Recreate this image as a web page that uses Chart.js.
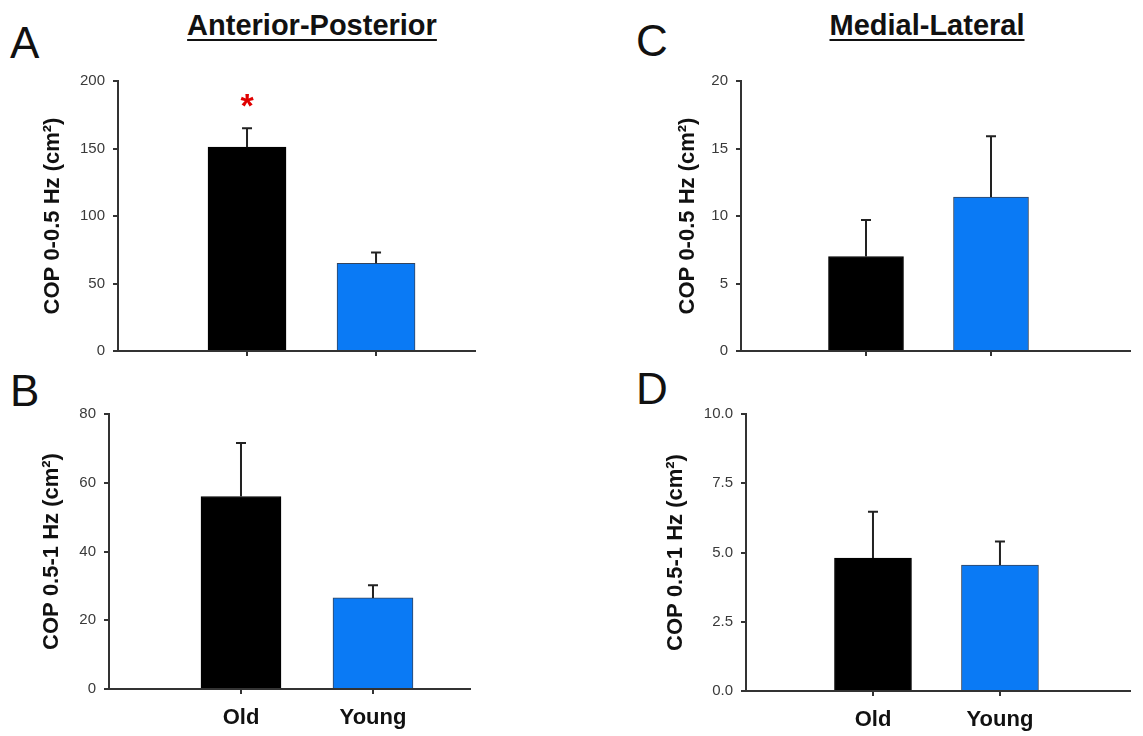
<!DOCTYPE html>
<html>
<head>
<meta charset="utf-8">
<script src="https://cdn.jsdelivr.net/npm/chart.js@4.4.1/dist/chart.umd.min.js"></script>
<style>
  html, body { margin: 0; padding: 0; background: #fff; }
  body { width: 1143px; height: 736px; position: relative; overflow: hidden; font-family: "Liberation Sans", Arial, sans-serif; }
  canvas { position: absolute; }
  .letter { position: absolute; font-size: 44px; line-height: 1; color: #111; }
  .heading {
    position: absolute; top: 11px; font-size: 29px; font-weight: bold; line-height: 1;
    white-space: nowrap; transform: translateX(-50%); color: #111;
    text-decoration: underline; text-decoration-thickness: 2px; text-underline-offset: 4px;
  }
</style>
</head>
<body>
<div class="letter" style="left:10px;top:21px">A</div>
<div class="letter" style="left:10px;top:369px">B</div>
<div class="letter" style="left:636px;top:19px">C</div>
<div class="letter" style="left:636px;top:367px">D</div>
<div class="heading" style="left:312px">Anterior-Posterior</div>
<div class="heading" style="left:927px">Medial-Lateral</div>

<canvas id="chart-a" width="470" height="320" style="left:20px;top:60px"></canvas>
<canvas id="chart-b" width="470" height="341" style="left:20px;top:395px"></canvas>
<canvas id="chart-c" width="503" height="320" style="left:640px;top:60px"></canvas>
<canvas id="chart-d" width="503" height="341" style="left:640px;top:395px"></canvas>

<script>
// ── 1. DATOS ────────────────────────────────────────
const GROUPS = ['Old', 'Young'];

// A: antero-posterior, 0-0.5 Hz
const AP_LOW = [151, 65];
const AP_LOW_SEM = [14, 8];
const AP_LOW_SIG = ['*', ''];
const AP_LOW_TICKS = [0, 50, 100, 150, 200];

// B: antero-posterior, 0.5-1 Hz
const AP_HIGH = [56, 26.5];
const AP_HIGH_SEM = [15.6, 3.7];
const AP_HIGH_TICKS = [0, 20, 40, 60, 80];

// C: medio-lateral, 0-0.5 Hz
const ML_LOW = [7.0, 11.4];
const ML_LOW_SEM = [2.7, 4.5];
const ML_LOW_TICKS = [0, 5, 10, 15, 20];

// D: medio-lateral, 0.5-1 Hz
const ML_HIGH = [4.8, 4.55];
const ML_HIGH_SEM = [1.67, 0.85];
const ML_HIGH_TICKS = [0, 2.5, 5, 7.5, 10];

const FONT = '"Liberation Sans", Arial, sans-serif';
const AXIS = '#333';

// ── 2. PANELES ──────────────────────────────────────
const PANELS = [
  { id: 'chart-a', values: AP_LOW, sem: AP_LOW_SEM, sig: AP_LOW_SIG, ticks: AP_LOW_TICKS,
    title: 'COP 0-0.5 Hz (cm²)', decimals: 0, names: false,
    top: 21, right: 15, yWidth: 98, xHeight: 29, titlePad: 20, xMax: 2.767, bar: 78 },
  { id: 'chart-b', values: AP_HIGH, sem: AP_HIGH_SEM, sig: null, ticks: AP_HIGH_TICKS,
    title: 'COP 0.5-1 Hz (cm²)', decimals: 0, names: true,
    top: 19, right: 20, yWidth: 89, xHeight: 47, titlePad: 19, xMax: 2.735, bar: 80 },
  { id: 'chart-c', values: ML_LOW, sem: ML_LOW_SEM, sig: null, ticks: ML_LOW_TICKS,
    title: 'COP 0-0.5 Hz (cm²)', decimals: 0, names: false,
    top: 21, right: 13, yWidth: 101, xHeight: 29, titlePad: 35, xMax: 3.112, bar: 75 },
  { id: 'chart-d', values: ML_HIGH, sem: ML_HIGH_SEM, sig: null, ticks: ML_HIGH_TICKS,
    title: 'COP 0.5-1 Hz (cm²)', decimals: 1, names: true,
    top: 19, right: 13, yWidth: 106, xHeight: 45, titlePad: 23, xMax: 3.024, bar: 77 }
];

// ── 3. BARRAS DE ERROR (solo hacia arriba) ──────────
const errorBars = {
  id: 'errorBars',
  afterDatasetsDraw(chart, args, opts) {
    const { ctx } = chart;
    const y = chart.scales.y;
    const meta = chart.getDatasetMeta(0);
    ctx.save();
    meta.data.forEach((bar, i) => {
      const top = y.getPixelForValue(opts.values[i] + opts.sem[i]);
      ctx.strokeStyle = '#222';
      ctx.lineWidth = 2;
      ctx.beginPath();
      ctx.moveTo(bar.x, bar.y);
      ctx.lineTo(bar.x, top);
      ctx.moveTo(bar.x - 5, top);
      ctx.lineTo(bar.x + 5, top);
      ctx.stroke();
      if (opts.sig && opts.sig[i]) {
        ctx.fillStyle = '#e00000';
        ctx.font = 'bold 34px ' + FONT;
        ctx.textAlign = 'center';
        ctx.textBaseline = 'alphabetic';
        ctx.fillText(opts.sig[i], bar.x, top - 11);
      }
    });
    ctx.restore();
  }
};

function makePanel(p) {
  return new Chart(document.getElementById(p.id), {
    type: 'bar',
    data: {
      datasets: [{
        data: GROUPS.map((g, i) => ({ x: i + 1, y: p.values[i] })),
        backgroundColor: ['#000000', '#0a7af5'],
        borderColor: ['#000000', '#34445c'],
        borderWidth: 1,
        barThickness: p.bar
      }]
    },
    options: {
      responsive: false,
      animation: false,
      devicePixelRatio: 1,
      layout: { padding: { top: p.top, right: p.right, left: 0, bottom: 0 } },
      plugins: {
        legend: { display: false },
        tooltip: { enabled: false },
        errorBars: { values: p.values, sem: p.sem, sig: p.sig }
      },
      scales: {
        x: {
          type: 'linear',
          min: 0,
          max: p.xMax,
          offset: false,
          afterBuildTicks: s => { s.ticks = GROUPS.map((g, i) => ({ value: i + 1 })); },
          afterFit: s => { s.height = p.xHeight; },
          grid: { offset: false, drawOnChartArea: false, drawTicks: true, tickLength: 5, color: AXIS, lineWidth: 2 },
          border: { display: true, color: AXIS, width: 2 },
          ticks: {
            padding: 11, color: '#111', autoSkip: false, maxRotation: 0,
            font: { family: FONT, size: 22, weight: 'bold' },
            callback: v => p.names ? GROUPS[v - 1] : ''
          }
        },
        y: {
          min: p.ticks[0],
          max: p.ticks[p.ticks.length - 1],
          afterBuildTicks: s => { s.ticks = p.ticks.map(v => ({ value: v })); },
          afterFit: s => { s.width = p.yWidth; },
          grid: { drawOnChartArea: false, drawTicks: true, tickLength: 5, color: AXIS, lineWidth: 2 },
          border: { display: true, color: AXIS, width: 2 },
          ticks: {
            padding: 8, color: '#3a3a3a',
            font: { family: FONT, size: 15 },
            callback: v => Number(v).toFixed(p.decimals)
          },
          title: {
            display: true,
            text: p.title,
            color: '#111',
            padding: { top: p.titlePad, bottom: 0 },
            font: { family: FONT, size: 22, weight: 'bold' }
          }
        }
      }
    },
    plugins: [errorBars]
  });
}

PANELS.forEach(makePanel);
</script>
</body>
</html>
